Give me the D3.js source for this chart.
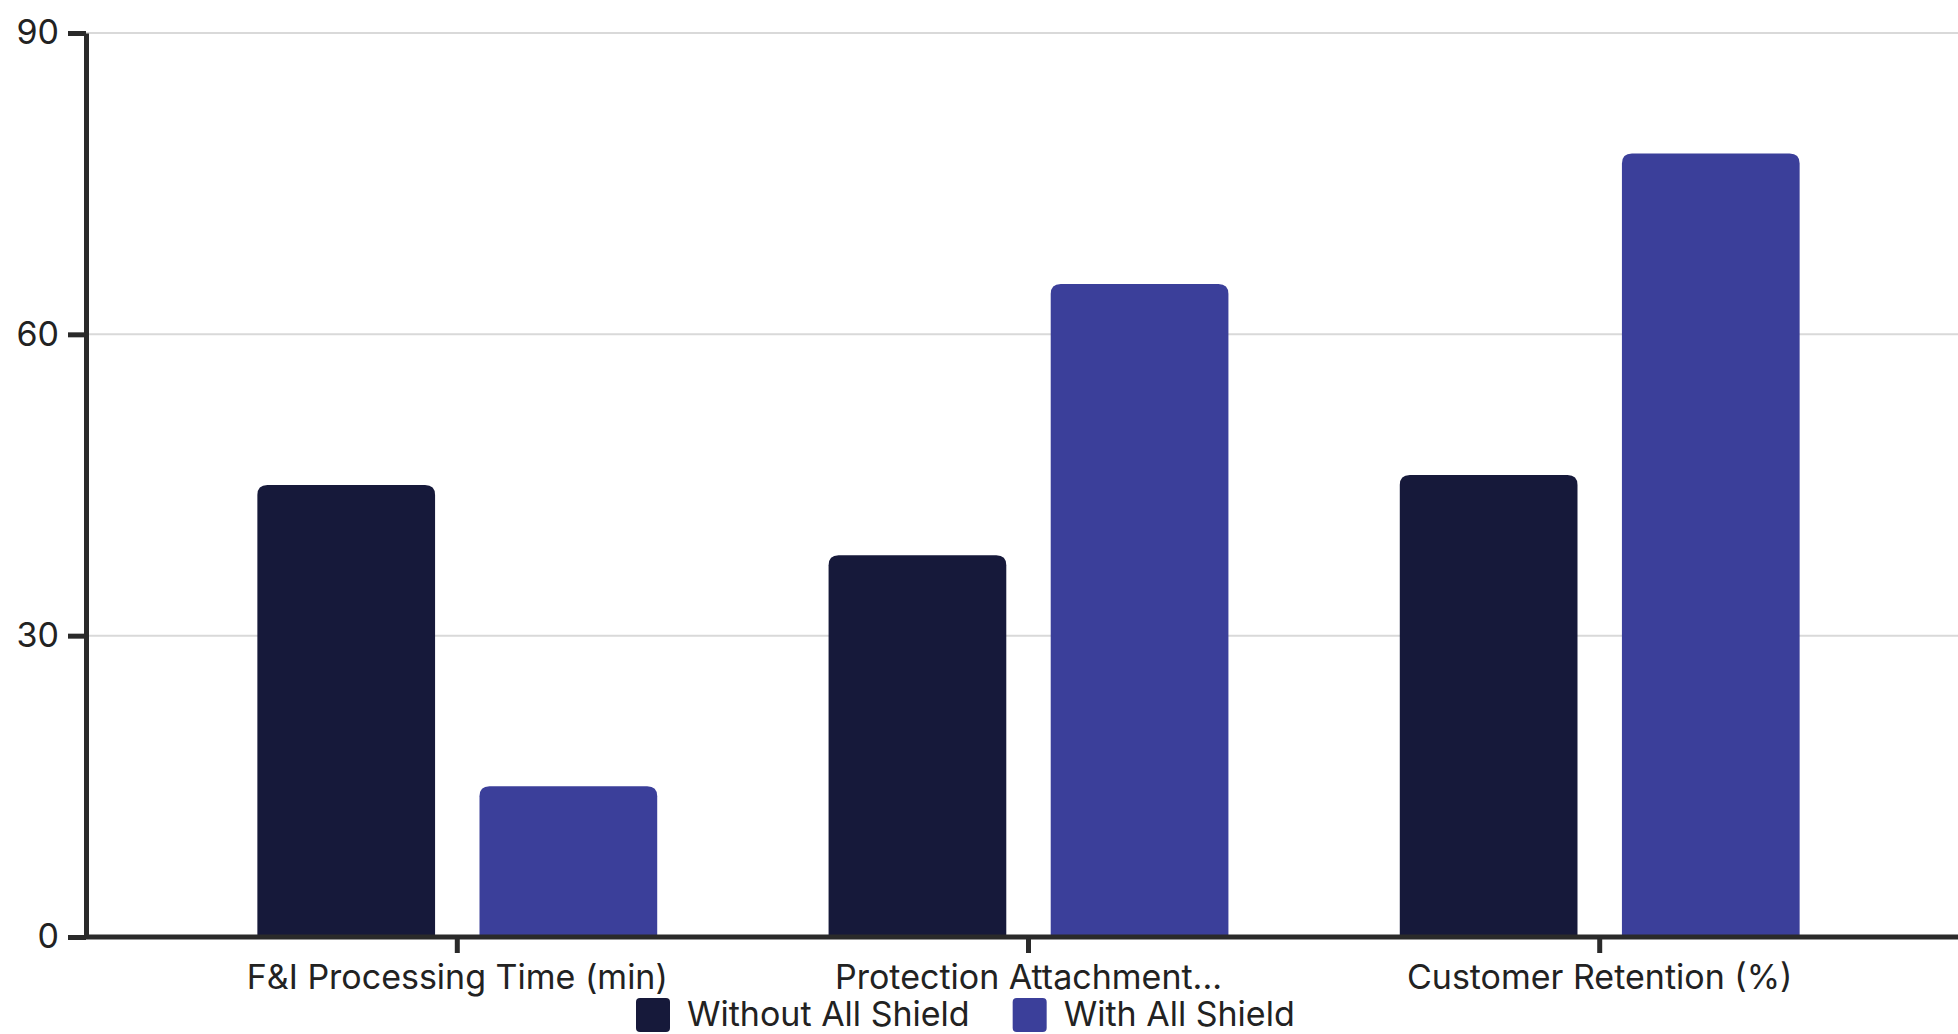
<!DOCTYPE html>
<html>
<head>
<meta charset="utf-8">
<script src="https://cdn.jsdelivr.net/npm/d3@7"></script>
<style>
  body { margin: 0; background: #fff; }
  svg { display: block; font-family: Inter, "Noto Sans", sans-serif; }
</style>
</head>
<body>
<div id="chart"></div>
<script>
const categories = ["F&I Processing Time (min)", "Protection Attachment...", "Customer Retention (%)"];
const seriesNames = ["Without All Shield", "With All Shield"];
const withoutValues = [45, 38, 46];
const withValues = [15, 65, 78];
const yTicks = [0, 30, 60, 90];

const colors = ["#16193a", "#3b3f9a"];
const width = 1958, height = 1034;
const margin = { top: 33, right: -13, bottom: 97, left: 86 };
const fontSize = "34px";

const svg = d3.select("#chart")
    .append("svg")
    .attr("width", width)
    .attr("height", height);

const y = d3.scaleLinear()
    .domain([0, 90])
    .range([height - margin.bottom, margin.top]);

const x0 = d3.scaleBand()
    .domain(categories)
    .range([margin.left, width - margin.right])
    .paddingInner(0.3)
    .paddingOuter(0.3);

const x1 = d3.scaleBand()
    .domain(seriesNames)
    .range([0, x0.bandwidth()])
    .paddingInner(0.2);

// grid lines
svg.append("g")
    .selectAll("line")
    .data(yTicks)
    .enter()
    .append("line")
    .attr("x1", margin.left)
    .attr("x2", width)
    .attr("y1", d => y(d))
    .attr("y2", d => y(d))
    .attr("stroke", "#d9d9d9")
    .attr("stroke-width", 2);

// bars
const rows = categories.map((c, i) => ({ cat: c, vals: [withoutValues[i], withValues[i]] }));
const r = 10;

function topRounded(xp, yp, w, h) {
    const rr = Math.min(r, h / 2, w / 2);
    return `M${xp},${yp + h}V${yp + rr}Q${xp},${yp} ${xp + rr},${yp}H${xp + w - rr}Q${xp + w},${yp} ${xp + w},${yp + rr}V${yp + h}Z`;
}

svg.append("g")
    .selectAll("g")
    .data(rows)
    .enter()
    .append("g")
    .attr("transform", d => `translate(${x0(d.cat)},0)`)
    .selectAll("path")
    .data(d => d.vals.map((v, k) => ({ name: seriesNames[k], v: v, k: k })))
    .enter()
    .append("path")
    .attr("d", d => topRounded(x1(d.name), y(d.v), x1.bandwidth(), y(0) - y(d.v)))
    .attr("fill", d => colors[d.k]);

// y axis
const yAxis = svg.append("g")
    .attr("transform", `translate(${margin.left},0)`)
    .call(d3.axisLeft(y).tickValues(yTicks).tickSize(18).tickSizeOuter(0).tickPadding(9));

// x axis
const xAxis = svg.append("g")
    .attr("transform", `translate(0,${y(0)})`)
    .call(d3.axisBottom(x0).tickSize(16).tickSizeOuter(0).tickPadding(12));

xAxis.select(".domain").attr("d", `M${margin.left},0H${width}`);

[yAxis, xAxis].forEach(a => {
    a.select(".domain").attr("stroke", "#2a2a2a").attr("stroke-width", 5);
    a.selectAll(".tick line").attr("stroke", "#2a2a2a").attr("stroke-width", 5);
    a.selectAll(".tick text")
        .attr("fill", "#222")
        .style("font-size", fontSize)
        .style("font-family", "Inter, 'Noto Sans', sans-serif");
});

// legend
const legend = svg.append("g")
    .attr("transform", "translate(636,998)");

let lx = 0;
seriesNames.forEach((name, i) => {
    const g = legend.append("g").attr("transform", `translate(${lx},0)`);
    g.append("rect")
        .attr("width", 34)
        .attr("height", 34)
        .attr("rx", 4)
        .attr("fill", colors[i]);
    const t = g.append("text")
        .attr("x", 51)
        .attr("y", 28)
        .attr("fill", "#222")
        .style("font-size", fontSize)
        .text(name);
    lx += 51 + t.node().getComputedTextLength() + 43;
});
</script>
</body>
</html>
